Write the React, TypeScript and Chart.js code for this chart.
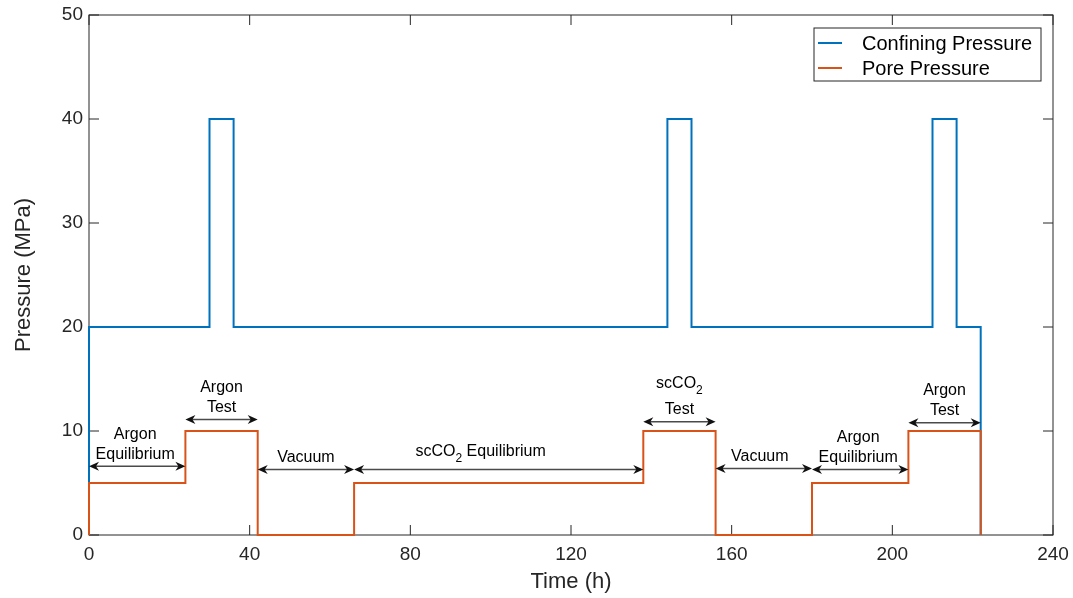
import React, { useEffect, useRef } from 'react';
import { Chart, registerables } from 'chart.js';

Chart.register(...registerables);

// Pressure history: step changes (time in hours, pressure in MPa)
const confiningTimes = [0, 0, 30, 36, 144, 150, 210, 216, 222];
const confiningValues = [0, 20, 40, 20, 40, 20, 40, 20, 0];
const poreTimes = [0, 0, 24, 42, 66, 138, 156, 180, 204, 222];
const poreValues = [0, 5, 10, 0, 5, 10, 0, 5, 10, 0];

// Test phases annotated with double-headed arrows
const phaseStarts = [0, 24, 42, 66, 138, 156, 180, 204];
const phaseEnds = [24, 42, 66, 138, 156, 180, 204, 222];
const phaseArrowLevels = [6.6, 11.1, 6.3, 6.3, 10.9, 6.4, 6.3, 10.8];
const phaseLabelCenters = [11.5, 33, 54, 97.5, 147, 167, 191.5, 213];
const phaseLabels = [
  ['Argon', 'Equilibrium'],
  ['Argon', 'Test'],
  ['Vacuum'],
  ['scCO_2 Equilibrium'],
  ['scCO_2', 'Test'],
  ['Vacuum'],
  ['Argon', 'Equilibrium'],
  ['Argon', 'Test'],
];

const seriesNames = ['Confining Pressure', 'Pore Pressure'];
const seriesColors = ['#0072BD', '#D95319'];

const FONT = '"Liberation Sans", Arial, Helvetica, sans-serif';
const AXIS_COLOR = '#262626';

function drawRichText(ctx: CanvasRenderingContext2D, text: string, cx: number, cy: number, size: number) {
  const parts = text.split(/_(\w)/);
  const subSize = Math.round(size * 0.72);
  let total = 0;
  parts.forEach((p, i) => {
    ctx.font = `${i % 2 ? subSize : size}px ${FONT}`;
    total += ctx.measureText(p).width;
  });
  let x = cx - total / 2;
  ctx.textAlign = 'left';
  ctx.textBaseline = 'middle';
  parts.forEach((p, i) => {
    ctx.font = `${i % 2 ? subSize : size}px ${FONT}`;
    ctx.fillText(p, x, i % 2 ? cy + 7 : cy);
    x += ctx.measureText(p).width;
  });
}

function drawArrowHead(ctx: CanvasRenderingContext2D, tipX: number, y: number, dir: number) {
  // dir = -1 points left, +1 points right
  const len = 10;
  const half = 4.5;
  const notch = 7;
  ctx.beginPath();
  ctx.moveTo(tipX, y);
  ctx.lineTo(tipX - dir * len, y - half);
  ctx.lineTo(tipX - dir * notch, y);
  ctx.lineTo(tipX - dir * len, y + half);
  ctx.closePath();
  ctx.fill();
}

const framePlugin = {
  id: 'matlabFrame',
  beforeDatasetsDraw(chart: any) {
    const { ctx, chartArea, scales } = chart;
    const { left, right, top, bottom } = chartArea;
    const xs = scales.x;
    const ys = scales.y;
    ctx.save();

    // axes box
    ctx.strokeStyle = AXIS_COLOR;
    ctx.lineWidth = 1;
    ctx.strokeRect(left, top, right - left, bottom - top);

    // inward tick marks on all four sides
    const tick = 10;
    ctx.beginPath();
    xs.ticks.forEach((t: any) => {
      const px = xs.getPixelForValue(t.value);
      ctx.moveTo(px, bottom);
      ctx.lineTo(px, bottom - tick);
      ctx.moveTo(px, top);
      ctx.lineTo(px, top + tick);
    });
    ys.ticks.forEach((t: any) => {
      const py = ys.getPixelForValue(t.value);
      ctx.moveTo(left, py);
      ctx.lineTo(left + tick, py);
      ctx.moveTo(right, py);
      ctx.lineTo(right - tick, py);
    });
    ctx.stroke();
    ctx.restore();
  },
  afterDatasetsDraw(chart: any) {
    const { ctx, scales } = chart;
    const xs = scales.x;
    const ys = scales.y;
    ctx.save();

    // phase arrows and their labels
    phaseStarts.forEach((start, i) => {
      const x1 = xs.getPixelForValue(start);
      const x2 = xs.getPixelForValue(phaseEnds[i]);
      const ay = ys.getPixelForValue(phaseArrowLevels[i]);
      ctx.strokeStyle = '#4a4a4a';
      ctx.lineWidth = 1.5;
      ctx.beginPath();
      ctx.moveTo(x1 + 5, ay);
      ctx.lineTo(x2 - 5, ay);
      ctx.stroke();
      ctx.fillStyle = '#111111';
      drawArrowHead(ctx, x1, ay, -1);
      drawArrowHead(ctx, x2, ay, 1);

      const cx = xs.getPixelForValue(phaseLabelCenters[i]);
      const lines = phaseLabels[i];
      let cy = ay - 12;
      for (let k = lines.length - 1; k >= 0; k--) {
        const hasSub = lines[k].includes('_');
        if (hasSub) cy -= 6;
        ctx.fillStyle = '#000000';
        drawRichText(ctx, lines[k], cx, cy, 16);
        cy -= 20;
      }
    });

    // legend
    const lx = 814;
    const ly = 28;
    const lw = 227;
    const lh = 53;
    ctx.fillStyle = '#ffffff';
    ctx.fillRect(lx, ly, lw, lh);
    ctx.strokeStyle = AXIS_COLOR;
    ctx.lineWidth = 1;
    ctx.strokeRect(lx, ly, lw, lh);
    seriesNames.forEach((name, i) => {
      const y = ly + 15 + i * 25;
      ctx.strokeStyle = seriesColors[i];
      ctx.lineWidth = 2;
      ctx.beginPath();
      ctx.moveTo(lx + 4, y);
      ctx.lineTo(lx + 28, y);
      ctx.stroke();
      ctx.fillStyle = '#000000';
      ctx.font = `20px ${FONT}`;
      ctx.textAlign = 'left';
      ctx.textBaseline = 'middle';
      ctx.fillText(name, lx + 48, y + 1);
    });

    ctx.restore();
  },
};

function clearScalePadding(scale: any) {
  scale.paddingTop = 0;
  scale.paddingBottom = 0;
  scale.paddingLeft = 0;
  scale.paddingRight = 0;
}

export default function App() {
  const canvasRef = useRef<HTMLCanvasElement | null>(null);

  useEffect(() => {
    document.body.style.margin = '0';
    const canvas = canvasRef.current;
    if (!canvas) return;

    const chart = new Chart(canvas, {
      type: 'line',
      data: {
        datasets: [
          {
            label: seriesNames[0],
            data: confiningTimes.map((t, i) => ({ x: t, y: confiningValues[i] })),
            borderColor: seriesColors[0],
            borderWidth: 2,
            pointRadius: 0,
            stepped: 'before',
            fill: false,
            clip: 4,
            order: 1,
          },
          {
            label: seriesNames[1],
            data: poreTimes.map((t, i) => ({ x: t, y: poreValues[i] })),
            borderColor: seriesColors[1],
            borderWidth: 2,
            pointRadius: 0,
            stepped: 'before',
            fill: false,
            clip: 4,
            order: 0,
          },
        ],
      },
      options: {
        responsive: false,
        animation: false,
        events: [],
        layout: { padding: { left: 0, right: 20, top: 15, bottom: 0 } },
        plugins: {
          legend: { display: false },
          tooltip: { enabled: false },
        },
        scales: {
          x: {
            type: 'linear',
            min: 0,
            max: 240,
            grid: { display: false, drawTicks: false },
            border: { display: false },
            ticks: {
              stepSize: 40,
              padding: 8,
              color: AXIS_COLOR,
              font: { family: FONT, size: 19 },
              maxRotation: 0,
            },
            title: {
              display: true,
              text: 'Time (h)',
              color: AXIS_COLOR,
              font: { family: FONT, size: 22 },
              padding: { top: 0, bottom: 3 },
            },
            afterFit: (scale: any) => {
              scale.height = 63;
              clearScalePadding(scale);
            },
          },
          y: {
            type: 'linear',
            min: 0,
            max: 50,
            grid: { display: false, drawTicks: false },
            border: { display: false },
            ticks: {
              stepSize: 10,
              padding: 6,
              color: AXIS_COLOR,
              font: { family: FONT, size: 19 },
            },
            title: {
              display: true,
              text: 'Pressure (MPa)',
              color: AXIS_COLOR,
              font: { family: FONT, size: 22 },
              padding: { top: 11, bottom: 0 },
            },
            afterFit: (scale: any) => {
              scale.width = 89;
              clearScalePadding(scale);
            },
          },
        },
      },
      plugins: [framePlugin],
    });

    return () => chart.destroy();
  }, []);

  return (
    <canvas
      ref={canvasRef}
      width={1073}
      height={598}
      style={{ display: 'block', width: '1073px', height: '598px', background: '#ffffff' }}
    />
  );
}
